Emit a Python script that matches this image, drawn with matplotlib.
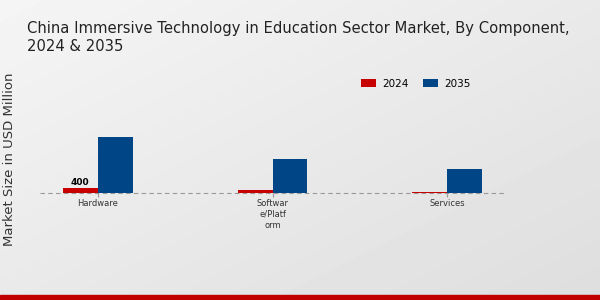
import numpy as np
import matplotlib.pyplot as plt

categories = ["Hardware", "Softwar\ne/Platf\norm", "Services"]
values_2024 = [400, 220, 110]
values_2035 = [4480, 2750, 1900]
years = ["2024", "2035"]

fig = plt.figure(figsize=(6, 3), dpi=100)

# background gradient
bg = fig.add_axes([0, 0, 1, 1], zorder=-10)
xx, yy = np.meshgrid(np.linspace(0, 1, 200), np.linspace(0, 1, 100))
grad = 0.96 - 0.09 * (0.5 * xx + 0.5 * yy)
bg.imshow(grad, cmap="gray", vmin=0, vmax=1, extent=[0, 1, 0, 1], aspect="auto", origin="upper")
bg.axhspan(0, 0.017, color="#c00000")
bg.set_xlim(0, 1)
bg.set_ylim(0, 1)
bg.axis("off")

ax = fig.add_axes([40 / 600, 1 - 193 / 300, 465 / 600, 103 / 300])
ax.patch.set_alpha(0)

x = np.arange(len(categories))
w = 0.2
ax.bar(x - w / 2, values_2024, w, color="#c80000", label=years[0])
ax.bar(x + w / 2, values_2035, w, color="#004586", label=years[1])
ax.text(x[0] - w / 2, values_2024[0] + 60, str(values_2024[0]), ha="center", va="bottom",
        fontsize=6.5, fontweight="bold")

ax.set_xlim(-0.33, 2.33)
ax.set_ylim(0, 8240)
ax.axhline(0, color="#999999", lw=0.8, ls=(0, (4, 3)), clip_on=False, zorder=0)
for s in ax.spines.values():
    s.set_visible(False)
ax.set_yticks([])
ax.set_xticks(x)
ax.set_xticklabels(categories, fontsize=6, color="#333333", linespacing=1.3)
ax.tick_params(axis="x", length=3, color="#999999", pad=1)

ax.legend(loc="upper left", bbox_to_anchor=(312 / 465, 1.2), ncol=2, frameon=False,
          fontsize=7.5, handlelength=1.45, handleheight=0.7, handletextpad=0.6,
          columnspacing=1.3)

fig.text(0.045, 0.82, "China Immersive Technology in Education Sector Market, By Component,\n2024 & 2035",
         fontsize=10.6, color="#222222", ha="left", va="bottom", linespacing=1.25)
fig.text(0.016, 0.47, "Market Size in USD Million", rotation=90, fontsize=9.5, color="#333333",
         ha="center", va="center")

fig.savefig("out.png", dpi=100)
